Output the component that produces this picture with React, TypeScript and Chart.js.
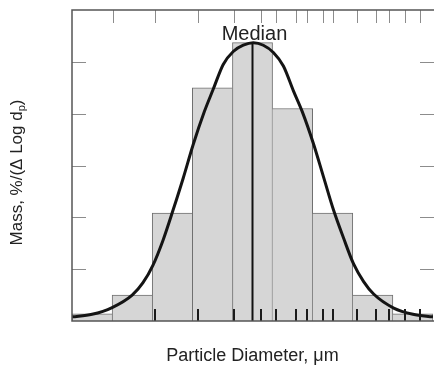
import React, { useEffect, useRef } from "react";
import { Chart, registerables } from "chart.js";

Chart.register(...registerables);

// ---- data ----
const binCenters = [0.5, 1.5, 2.5, 3.5, 4.5, 5.5, 6.5, 7.5, 8.5];
const massValues = [0.14, 0.5, 2.08, 4.5, 5.37, 4.1, 2.08, 0.5, 0.14];

const curveX = [0, 0.5, 1.0, 1.5, 1.77, 2.02, 2.27, 2.52, 2.77, 3.02, 3.3, 3.52, 3.77, 4.02, 4.27, 4.52, 4.77, 5.02, 5.27, 5.52, 5.74, 6.02, 6.27, 6.52, 6.77, 7.02, 7.27, 7.52, 8.02, 8.5, 9.0];
const curveY = [0.08, 0.13, 0.26, 0.5, 0.74, 1.08, 1.56, 2.14, 2.75, 3.4, 4.04, 4.47, 4.95, 5.2, 5.32, 5.37, 5.32, 5.18, 4.92, 4.44, 4.04, 3.42, 2.78, 2.14, 1.6, 1.1, 0.76, 0.52, 0.25, 0.13, 0.08];

const medianX = 4.5;
const medianTop = 5.37;
const medianLabelY = 5.42;

const yTickValues = [1, 2, 3, 4, 5];
const topTickValues = [1.01, 2.06, 3.13, 4.03, 4.7, 5.08, 5.58, 5.86, 6.25, 6.5, 7.1, 7.59, 7.9, 8.3, 8.67];
const bottomTickValues = [2.06, 3.13, 4.03, 4.7, 5.08, 5.58, 5.86, 6.25, 6.5, 7.1, 7.59, 7.9, 8.3, 8.67];

const xTitle = "Particle Diameter, \u03BCm";
const yTitleMain = "Mass, %/(\u0394 Log d";
const yTitleSub = "p";
const yTitleEnd = ")";

const FONT = "'Liberation Sans', Arial, Helvetica, sans-serif";

const framePlugin = {
  id: "frameAndTicks",
  afterDatasetsDraw(chart: any) {
    const { ctx, chartArea: a, scales } = chart;
    const x = scales.x;
    const y = scales.y;
    ctx.save();

    // top ticks
    ctx.strokeStyle = "#8c8c8c";
    ctx.lineWidth = 1;
    topTickValues.forEach((v) => {
      const px = Math.round(x.getPixelForValue(v)) + 0.5;
      ctx.beginPath();
      ctx.moveTo(px, a.top);
      ctx.lineTo(px, a.top + 13);
      ctx.stroke();
    });
    // left / right ticks
    yTickValues.forEach((v) => {
      const py = Math.round(y.getPixelForValue(v)) + 0.5;
      ctx.beginPath();
      ctx.moveTo(a.left, py);
      ctx.lineTo(a.left + 14, py);
      ctx.moveTo(a.right - 13, py);
      ctx.lineTo(a.right + 1, py);
      ctx.stroke();
    });
    // bottom ticks
    ctx.strokeStyle = "#1a1a1a";
    ctx.lineWidth = 2;
    bottomTickValues.forEach((v) => {
      const px = Math.round(x.getPixelForValue(v));
      ctx.beginPath();
      ctx.moveTo(px, a.bottom);
      ctx.lineTo(px, a.bottom - 12);
      ctx.stroke();
    });

    // frame (top, left, bottom)
    ctx.strokeStyle = "#555";
    ctx.lineWidth = 1.5;
    ctx.beginPath();
    ctx.moveTo(a.right + 1, a.top);
    ctx.lineTo(a.left, a.top);
    ctx.lineTo(a.left, a.bottom);
    ctx.lineTo(a.right + 1, a.bottom);
    ctx.stroke();

    // Median label
    ctx.fillStyle = "#222";
    ctx.font = "20px " + FONT;
    ctx.textAlign = "center";
    ctx.textBaseline = "alphabetic";
    ctx.fillText("Median", x.getPixelForValue(medianX) + 2, y.getPixelForValue(medianLabelY));

    // y title with subscript
    const mainFont = "17px " + FONT;
    const subFont = "11px " + FONT;
    ctx.font = mainFont;
    const w1 = ctx.measureText(yTitleMain).width;
    const w3 = ctx.measureText(yTitleEnd).width;
    ctx.font = subFont;
    const w2 = ctx.measureText(yTitleSub).width;
    const total = w1 + w2 + w3;
    const cx = a.left - 50;
    const cy = (a.top + a.bottom) / 2 + 7;
    ctx.translate(cx, cy);
    ctx.rotate(-Math.PI / 2);
    ctx.textAlign = "left";
    ctx.font = mainFont;
    let xx = -total / 2;
    ctx.fillText(yTitleMain, xx, 0);
    xx += w1;
    ctx.font = subFont;
    ctx.fillText(yTitleSub, xx, 3);
    xx += w2;
    ctx.font = mainFont;
    ctx.fillText(yTitleEnd, xx, 0);

    ctx.restore();
  },
};

export default function App() {
  const canvasRef = useRef<HTMLCanvasElement | null>(null);

  useEffect(() => {
    document.body.style.margin = "0";
    const canvas = canvasRef.current;
    if (!canvas) return;
    const chart = new Chart(canvas, {
      type: "bar",
      data: {
        datasets: [
          {
            type: "line",
            data: curveX.map((xv, i) => ({ x: xv, y: curveY[i] })),
            borderColor: "#141414",
            borderWidth: 3,
            pointRadius: 0,
            cubicInterpolationMode: "monotone",
            fill: false,
            order: 1,
          } as any,
          {
            type: "line",
            data: [
              { x: medianX, y: 0 },
              { x: medianX, y: medianTop },
            ],
            borderColor: "#111",
            borderWidth: 2,
            pointRadius: 0,
            fill: false,
            order: 2,
          } as any,
          {
            type: "bar",
            data: binCenters.map((xv, i) => ({ x: xv, y: massValues[i] })),
            backgroundColor: "#d6d6d6",
            borderColor: "#707070",
            borderWidth: (c: any) => {
              const i = c.dataIndex;
              if (i < 4) return { left: 1, top: 1, right: 0, bottom: 0 };
              if (i === 4) return { left: 1, top: 1, right: 1, bottom: 0 };
              return { left: 0, top: 1, right: 1, bottom: 0 };
            },
            borderSkipped: false,
            barPercentage: 1,
            categoryPercentage: 1,
            grouped: false,
            order: 3,
          } as any,
        ],
      },
      options: {
        animation: false,
        responsive: false,
        layout: { padding: { top: 10, right: 1, left: 0, bottom: 0 } },
        plugins: {
          legend: { display: false },
          tooltip: { enabled: false },
        },
        scales: {
          x: {
            type: "linear",
            position: "bottom",
            min: 0,
            max: 9,
            offset: false,
            ticks: { display: false, stepSize: 1 },
            grid: { display: false, drawTicks: false, offset: false },
            border: { display: false },
            title: {
              display: true,
              text: xTitle,
              color: "#222",
              font: { family: FONT, size: 18, lineHeight: 1 },
              padding: { top: 0, bottom: 0 },
            },
            afterFit: (s: any) => {
              s.height = 44;
            },
          },
          y: {
            type: "linear",
            min: 0,
            max: 6,
            ticks: { display: false },
            grid: { display: false, drawTicks: false },
            border: { display: false },
            afterFit: (s: any) => {
              s.width = 72;
            },
          },
        },
      } as any,
      plugins: [framePlugin],
    });
    return () => chart.destroy();
  }, []);

  return (
    <div style={{ position: "fixed", left: 0, top: 0, width: 434, height: 365, background: "#fff" }}>
      <canvas ref={canvasRef} width={434} height={365} style={{ display: "block" }} />
    </div>
  );
}
